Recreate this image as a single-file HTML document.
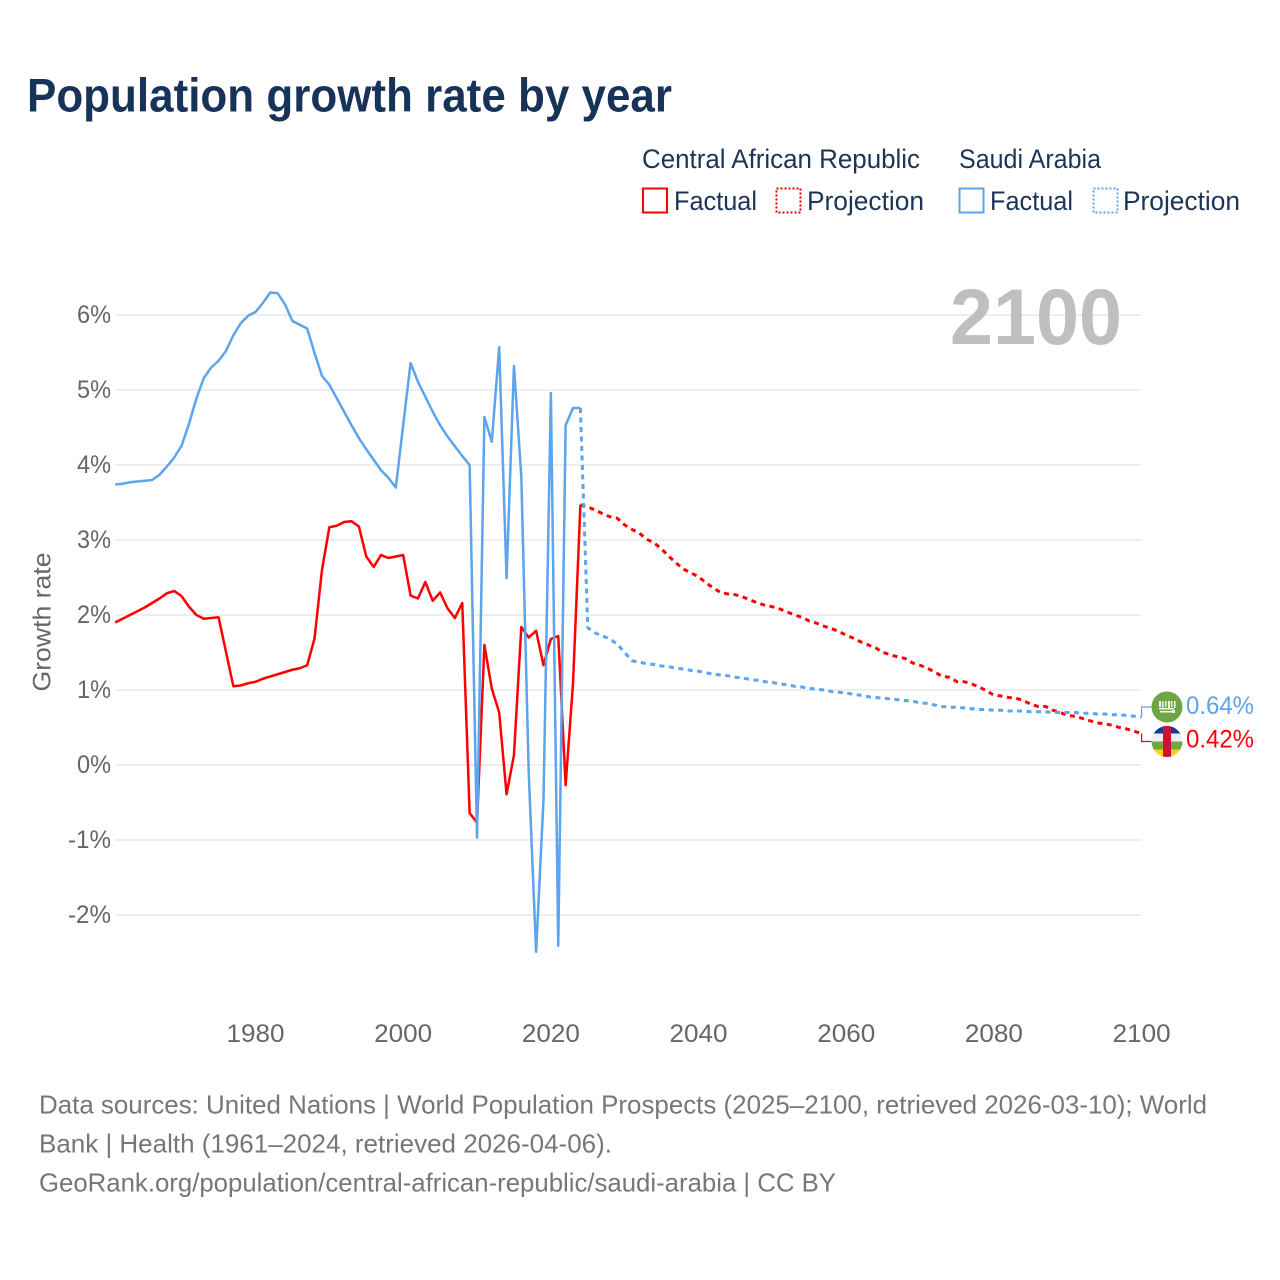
<!DOCTYPE html>
<html lang="en">
<head>
<meta charset="utf-8">
<title>Population growth rate by year</title>
<style>
html,body{margin:0;padding:0;background:#fff;width:1280px;height:1280px;overflow:hidden}
svg{display:block}
text{font-family:"Liberation Sans",sans-serif}
</style>
</head>
<body>
<svg id="chart" xmlns="http://www.w3.org/2000/svg" width="1280" height="1280" viewBox="0 0 1280 1280">
  <rect x="0" y="0" width="1280" height="1280" fill="#fff"/>
  <text x="27" y="111.5" font-size="47" font-weight="700" fill="#18335a" textLength="645" lengthAdjust="spacingAndGlyphs">Population growth rate by year</text>

  <g font-size="27" fill="#1b3557">
    <text x="642" y="168" textLength="278" lengthAdjust="spacingAndGlyphs">Central African Republic</text>
    <text x="959" y="168" textLength="142" lengthAdjust="spacingAndGlyphs">Saudi Arabia</text>
    <rect x="643" y="188.5" width="24" height="24" fill="none" stroke="#ff0000" stroke-width="2"/>
    <text x="674" y="210" textLength="83" lengthAdjust="spacingAndGlyphs">Factual</text>
    <rect x="776.5" y="188.5" width="24" height="24" fill="none" stroke="#e00000" stroke-width="2" stroke-dasharray="2 2"/>
    <text x="807" y="210" textLength="117" lengthAdjust="spacingAndGlyphs">Projection</text>
    <rect x="959.5" y="188.5" width="24" height="24" fill="none" stroke="#5ba4ee" stroke-width="2"/>
    <text x="990" y="210" textLength="83" lengthAdjust="spacingAndGlyphs">Factual</text>
    <rect x="1093.5" y="188.5" width="24" height="24" fill="none" stroke="#5ba4ee" stroke-width="2" stroke-dasharray="2 2"/>
    <text x="1123" y="210" textLength="117" lengthAdjust="spacingAndGlyphs">Projection</text>
  </g>

  <g id="grid"></g>
  <g id="yticks"></g>
  <g id="xticks"></g>

  <text transform="translate(50.5 622) rotate(-90)" text-anchor="middle" font-size="25" fill="#666" textLength="139" lengthAdjust="spacingAndGlyphs">Growth rate</text>
  <text x="950" y="344" font-size="79" font-weight="700" fill="#bfbfbf" textLength="172" lengthAdjust="spacingAndGlyphs">2100</text>

  <g id="series"></g>
  <g id="endcaps"></g>

  <g font-size="26" fill="#777">
    <text x="39" y="1113.5" textLength="1168" lengthAdjust="spacingAndGlyphs">Data sources: United Nations | World Population Prospects (2025–2100, retrieved 2026-03-10); World</text>
    <text x="39" y="1152.5" textLength="573" lengthAdjust="spacingAndGlyphs">Bank | Health (1961–2024, retrieved 2026-04-06).</text>
    <text x="39" y="1191.5" textLength="797" lengthAdjust="spacingAndGlyphs">GeoRank.org/population/central-african-republic/saudi-arabia | CC BY</text>
  </g>
</svg>
<script>
const startYear = 1961;
const projectionStartYear = 2025;
const yTickValues = [-2, -1, 0, 1, 2, 3, 4, 5, 6];
const yTickLabels = ['-2%', '-1%', '0%', '1%', '2%', '3%', '4%', '5%', '6%'];
const xTickYears = [1980, 2000, 2020, 2040, 2060, 2080, 2100];

const carFactual = [
  1.90,1.95,2.00,2.05,2.10,2.16,2.22,2.29,2.32,2.25,
  2.11,2.00,1.95,1.96,1.97,1.51,1.05,1.06,1.09,1.11,
  1.15,1.18,1.21,1.24,1.27,1.29,1.33,1.69,2.60,3.17,
  3.19,3.24,3.25,3.18,2.78,2.64,2.80,2.76,2.78,2.80,
  2.26,2.22,2.44,2.19,2.30,2.09,1.96,2.16,-0.64,-0.77,
  1.60,1.02,0.70,-0.39,0.13,1.84,1.70,1.79,1.33,1.68,
  1.72,-0.27,1.09,3.47
];
const carProjection = [
  3.44,3.40,3.35,3.31,3.29,3.20,3.14,3.09,3.01,2.96,
  2.88,2.78,2.69,2.61,2.56,2.51,2.43,2.36,2.30,2.28,
  2.27,2.24,2.20,2.16,2.13,2.11,2.08,2.04,2.00,1.97,
  1.92,1.89,1.85,1.82,1.78,1.73,1.69,1.64,1.60,1.56,
  1.50,1.47,1.44,1.42,1.36,1.33,1.29,1.24,1.18,1.17,
  1.11,1.11,1.08,1.04,0.99,0.93,0.92,0.90,0.89,0.86,
  0.81,0.78,0.78,0.73,0.70,0.66,0.65,0.62,0.59,0.56,
  0.55,0.53,0.50,0.48,0.45,0.42
];
const saudiFactual = [
  3.74,3.75,3.77,3.78,3.79,3.80,3.87,3.98,4.10,4.26,
  4.55,4.89,5.16,5.30,5.39,5.52,5.73,5.89,5.99,6.04,
  6.16,6.30,6.29,6.14,5.92,5.87,5.82,5.49,5.19,5.07,
  4.89,4.71,4.53,4.36,4.21,4.07,3.93,3.83,3.70,4.53,
  5.36,5.11,4.91,4.71,4.53,4.38,4.25,4.12,4.00,-0.97,
  4.64,4.31,5.57,2.49,5.32,3.84,-0.10,-2.49,-0.47,4.96,
  -2.41,4.53,4.76,4.76
];
const saudiProjection = [
  1.83,1.76,1.72,1.68,1.61,1.50,1.39,1.37,1.35,1.34,
  1.32,1.31,1.29,1.28,1.26,1.25,1.23,1.21,1.20,1.19,
  1.17,1.16,1.14,1.13,1.11,1.10,1.08,1.07,1.05,1.04,
  1.02,1.01,1.00,0.98,0.97,0.96,0.94,0.93,0.91,0.90,
  0.89,0.88,0.87,0.86,0.85,0.83,0.82,0.80,0.78,0.77,
  0.77,0.76,0.75,0.74,0.74,0.73,0.73,0.72,0.72,0.72,
  0.71,0.71,0.71,0.70,0.70,0.70,0.70,0.69,0.69,0.68,
  0.68,0.67,0.67,0.66,0.65,0.64
];

const NS = 'http://www.w3.org/2000/svg';
const X0 = 115.2, X1 = 1141.6, Y0 = 765, PX_PER_PCT = 75;
const endYear = projectionStartYear + carProjection.length - 1;
function xScale(year) { return X0 + (X1 - X0) * (year - startYear) / (endYear - startYear); }
function yScale(v) { return Y0 - v * PX_PER_PCT; }
function make(tag, attrs, parent) {
  const el = document.createElementNS(NS, tag);
  for (const k in attrs) el.setAttribute(k, attrs[k]);
  parent.appendChild(el);
  return el;
}
function pathFrom(values, firstYear, prefix) {
  let d = prefix || '';
  values.forEach(function (v, i) {
    d += (d === '' ? 'M' : 'L') + xScale(firstYear + i).toFixed(2) + ' ' + yScale(v).toFixed(2);
  });
  return d;
}

const gridG = document.getElementById('grid');
const yG = document.getElementById('yticks');
yTickValues.forEach(function (v, i) {
  const line = make('line', { x1: X0, x2: X1, y1: yScale(v), y2: yScale(v), stroke: '#eeeeee', 'stroke-width': 2 }, gridG);
  
  
  const label = make('text', { x: 111, y: yScale(v) + 8, 'text-anchor': 'end', 'font-size': 25, fill: '#666', textLength: yTickLabels[i].length === 3 ? 43 : 34, lengthAdjust: 'spacingAndGlyphs' }, yG);
  
  
  label.textContent = yTickLabels[i];
});

const xG = document.getElementById('xticks');
xTickYears.forEach(function (year) {
  const label = make('text', { x: xScale(year), y: 1042, 'text-anchor': 'middle', 'font-size': 25, fill: '#666', textLength: 58, lengthAdjust: 'spacingAndGlyphs' }, xG);
  
  
  label.textContent = String(year);
});

const seriesG = document.getElementById('series');
const RED = '#ff0000', BLUE = '#5ba4ee';
function projectionPath(factual, projection) {
  const lastYear = startYear + factual.length - 1;
  const start = 'M' + xScale(lastYear).toFixed(2) + ' ' + yScale(factual[factual.length - 1]).toFixed(2);
  return pathFrom(projection, projectionStartYear, start);
}
const lineAttrs = { fill: 'none', 'stroke-width': 2.5, 'stroke-linejoin': 'round' };
const dashAttrs = { fill: 'none', 'stroke-width': 3, 'stroke-linejoin': 'round', 'stroke-dasharray': '5 4.5' };

const carLine = make('path', Object.assign({ d: pathFrom(carFactual, startYear), stroke: RED }, lineAttrs), seriesG);


const carDash = make('path', Object.assign({ d: projectionPath(carFactual, carProjection), stroke: RED }, dashAttrs), seriesG);


const saudiLine = make('path', Object.assign({ d: pathFrom(saudiFactual, startYear), stroke: BLUE }, lineAttrs), seriesG);


const saudiDash = make('path', Object.assign({ d: projectionPath(saudiFactual, saudiProjection), stroke: BLUE }, dashAttrs), seriesG);



const capG = document.getElementById('endcaps');
const saudiEnd = saudiProjection[saudiProjection.length - 1];
const carEnd = carProjection[carProjection.length - 1];
const saudiCapY = 707, carCapY = 741.5, capX = 1167;

const saudiConn = make('path', { d: 'M' + X1 + ' ' + yScale(saudiEnd) + 'V' + saudiCapY + 'H' + (capX - 15), fill: 'none', stroke: BLUE, 'stroke-width': 1.2 }, capG);


const carConn = make('path', { d: 'M' + X1 + ' ' + yScale(carEnd) + 'V' + carCapY + 'H' + (capX - 15), fill: 'none', stroke: RED, 'stroke-width': 1.2 }, capG);



const defs = make('defs', {}, capG);
const clip = make('clipPath', { id: 'car-clip' }, defs);
make('circle', { cx: capX, cy: carCapY, r: 15.5 }, clip);

const saudiFlag = make('g', {}, capG);


make('circle', { cx: capX, cy: saudiCapY, r: 15.5, fill: '#6fa544' }, saudiFlag);
[[-8, -6, 2, 6], [-5, -6, 1.5, 7], [-2, -6, 1.5, 6], [1, -6, 2, 7], [4, -6, 1.5, 6], [7, -6, 1.5, 7], [-8, 1, 15, 1.5], [-7, 4, 12, 1.5], [5, 3, 3, 3]].forEach(function (r) {
  make('rect', { x: capX + r[0], y: saudiCapY + r[1], width: r[2], height: r[3], fill: '#f4f7ee' }, saudiFlag);
});

const carFlag = make('g', { 'clip-path': 'url(#car-clip)' }, capG);


[[-16, '#0f3f9c'], [-8, '#eeeeee'], [0, '#6fa544'], [8, '#fcd116']].forEach(function (b) {
  make('rect', { x: capX - 16, y: carCapY + b[0], width: 32, height: 8, fill: b[1] }, carFlag);
});
make('rect', { x: capX - 4, y: carCapY - 16, width: 8, height: 32, fill: '#d21034' }, carFlag);

const saudiLabel = make('text', { x: 1186, y: saudiCapY + 7, 'font-size': 25, fill: BLUE, textLength: 68, lengthAdjust: 'spacingAndGlyphs' }, capG);


saudiLabel.textContent = saudiEnd.toFixed(2) + '%';
const carLabel = make('text', { x: 1186, y: carCapY + 6, 'font-size': 25, fill: RED, textLength: 68, lengthAdjust: 'spacingAndGlyphs' }, capG);


carLabel.textContent = carEnd.toFixed(2) + '%';
</script>
</body>
</html>
